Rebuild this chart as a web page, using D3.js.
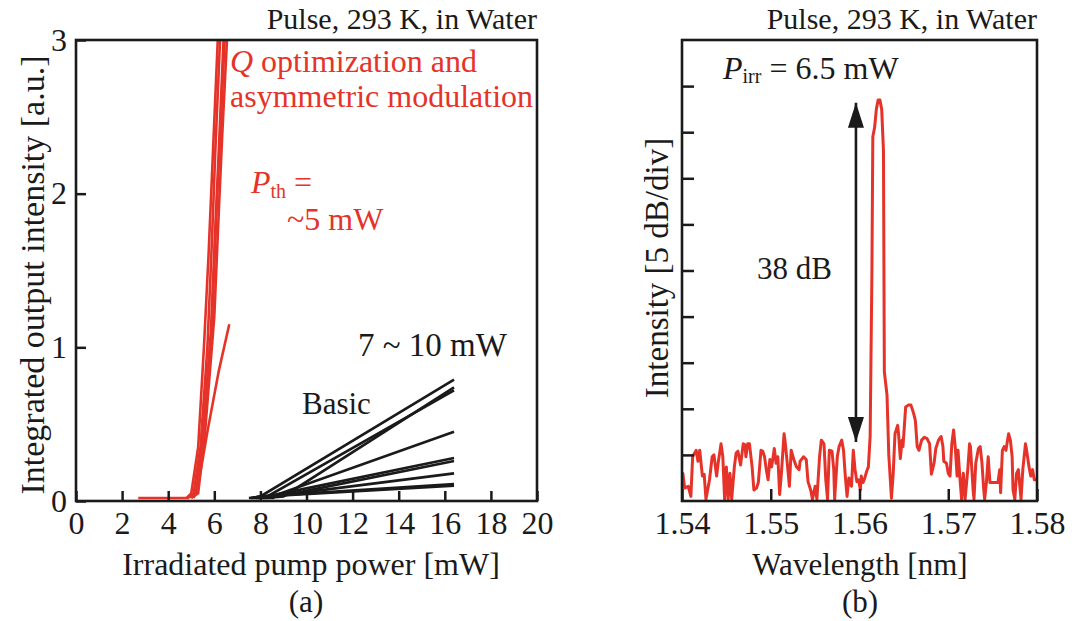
<!DOCTYPE html>
<html>
<head>
<meta charset="utf-8">
<script src="https://cdn.jsdelivr.net/npm/d3@7"></script>
<style>
  html, body { margin: 0; padding: 0; background: #fff; }
  text { font-family: "Liberation Serif", "Times New Roman", serif; fill: #1a1a1a; }
</style>
</head>
<body>
<div id="chart"></div>
<script>
// Tick values
var powerTicks = [0, 2, 4, 6, 8, 10, 12, 14, 16, 18, 20];
var outputTicks = [0, 1, 2, 3];
var wavelengthTicks = [1.54, 1.55, 1.56, 1.57, 1.58];
var intensityTicks = [5, 10, 15, 20, 25, 30, 35, 40, 45];

// (a) red curves: Q optimization and asymmetric modulation, [power, output]
var redBase = [[2.7, 0.02], [4.9, 0.02]];
var redCurves = [
  [[4.8, 0.02], [5.0, 0.05], [5.3, 0.35], [5.55, 1.0], [5.75, 1.6], [5.95, 2.3], [6.15, 3.0]],
  [[4.9, 0.02], [5.1, 0.05], [5.4, 0.35], [5.7, 1.0], [5.9, 1.7], [6.05, 2.3], [6.25, 3.0]],
  [[5.0, 0.02], [5.2, 0.05], [5.5, 0.4], [5.85, 1.1], [6.05, 1.8], [6.2, 2.3], [6.4, 3.0]],
  [[5.0, 0.02], [5.3, 0.05], [5.6, 0.45], [6.0, 1.2], [6.2, 1.9], [6.35, 2.4], [6.55, 3.0]],
  [[5.1, 0.02], [5.3, 0.1], [5.55, 0.5], [5.9, 1.15], [6.1, 1.9], [6.3, 2.5], [6.45, 3.0]],
  [[5.0, 0.02], [5.3, 0.1], [5.7, 0.45], [6.2, 0.85], [6.65, 1.15]]
];

// (a) black curves: basic cavities
var blackBase = [[7.5, 0.02], [8.6, 0.02]];
var blackCurves = [
  [[7.6, 0.02], [8.0, 0.03], [16.4, 0.79]],
  [[8.2, 0.02], [9.0, 0.03], [16.4, 0.74]],
  [[7.8, 0.02], [8.3, 0.03], [16.4, 0.72]],
  [[7.9, 0.02], [8.5, 0.03], [16.4, 0.45]],
  [[7.8, 0.02], [8.3, 0.03], [16.4, 0.28]],
  [[8.1, 0.02], [8.8, 0.03], [16.4, 0.26]],
  [[7.9, 0.02], [8.5, 0.03], [16.4, 0.18]],
  [[7.6, 0.02], [8.0, 0.03], [16.4, 0.11]],
  [[7.7, 0.02], [8.2, 0.03], [16.4, 0.10]]
];

// (b) spectrum, [wavelength um, dB above bottom of frame]
var spectrum = [
  [1.5400, 2.7], [1.5401, 3.0], [1.5403, 1.4], [1.5407, 1.6], [1.5410, 0.5], [1.5412, 4.8],
  [1.5416, 5.5], [1.5418, 4.3], [1.5420, 5.5], [1.5423, 2.7], [1.5425, 2.9], [1.5427, 0.2],
  [1.5431, 2.3], [1.5434, 4.8], [1.5436, 5.0], [1.5439, 2.7], [1.5441, 4.3], [1.5444, 6.2],
  [1.5446, 4.8], [1.5448, 0.2], [1.5450, 3.7], [1.5452, 0.2], [1.5454, 3.0], [1.5456, 0.2],
  [1.5459, 3.7], [1.5461, 5.2], [1.5463, 5.4], [1.5466, 3.9], [1.5469, 6.2], [1.5471, 6.1],
  [1.5472, 4.8], [1.5474, 6.2], [1.5476, 6.2], [1.5479, 3.7], [1.5481, 1.2], [1.5484, 1.4],
  [1.5486, 2.0], [1.5489, 5.5], [1.5491, 5.4], [1.5493, 4.8], [1.5495, 3.4], [1.5497, 2.3],
  [1.5499, 4.5], [1.5501, 3.7], [1.5504, 5.7], [1.5506, 4.1], [1.5508, 4.8], [1.5510, 0.7],
  [1.5512, 3.0], [1.5515, 7.3], [1.5516, 6.6], [1.5519, 3.7], [1.5521, 1.6], [1.5523, 5.5],
  [1.5526, 4.5], [1.5529, 3.7], [1.5532, 3.4], [1.5533, 4.3], [1.5537, 4.8], [1.5540, 4.5],
  [1.5542, 2.1], [1.5545, 1.2], [1.5547, 0.2], [1.5550, 1.6], [1.5552, 0.2], [1.5555, 4.8],
  [1.5557, 6.6], [1.5560, 6.2], [1.5562, 2.3], [1.5564, 0.2], [1.5566, 5.5], [1.5569, 5.4],
  [1.5571, 3.4], [1.5572, 0.2], [1.5575, 4.8], [1.5577, 5.9], [1.5580, 6.6], [1.5582, 5.5],
  [1.5584, 2.7], [1.5586, 0.5], [1.5588, 2.5], [1.5591, 1.6], [1.5593, 5.5], [1.5595, 3.4],
  [1.5597, 2.1], [1.5599, 2.3], [1.5601, 1.2], [1.5602, 2.7], [1.5604, 2.0], [1.5606, 2.5],
  [1.5608, 3.2], [1.5610, 3.7], [1.5612, 7.0], [1.5614, 25], [1.5615, 39.5], [1.5617, 40.5],
  [1.5619, 42.5], [1.5621, 43.5], [1.5623, 43.5], [1.5625, 42.5], [1.5627, 38], [1.5628, 14],
  [1.5631, 11.5], [1.5633, 5.0], [1.5636, 0.3], [1.5638, 3.0], [1.5640, 7.3], [1.5643, 8.2],
  [1.5644, 7.3], [1.5646, 4.6], [1.5648, 6.6], [1.5649, 5.9], [1.5652, 10.2], [1.5655, 10.4],
  [1.5658, 10.4], [1.5661, 9.5], [1.5663, 8.7], [1.5665, 5.9], [1.5667, 5.5], [1.5670, 6.6],
  [1.5673, 6.9], [1.5676, 6.8], [1.5679, 6.2], [1.5681, 2.9], [1.5684, 4.1], [1.5686, 5.7],
  [1.5689, 6.6], [1.5692, 7.0], [1.5694, 5.9], [1.5695, 4.3], [1.5698, 4.1], [1.5700, 3.0],
  [1.5702, 2.7], [1.5704, 6.2], [1.5706, 7.7], [1.5708, 5.7], [1.5710, 2.7], [1.5711, 5.5],
  [1.5713, 2.7], [1.5715, 0.2], [1.5717, 3.0], [1.5719, 0.2], [1.5722, 3.4], [1.5724, 6.2],
  [1.5725, 5.9], [1.5728, 1.2], [1.5729, 0.2], [1.5731, 4.1], [1.5734, 5.7], [1.5736, 5.9],
  [1.5738, 4.1], [1.5740, 1.2], [1.5741, 0.2], [1.5743, 2.0], [1.5745, 4.8], [1.5747, 2.0],
  [1.5752, 2.0], [1.5756, 2.0], [1.5758, 3.4], [1.5759, 0.9], [1.5761, 5.5], [1.5763, 5.9],
  [1.5765, 5.5], [1.5768, 7.3], [1.5770, 6.6], [1.5772, 4.8], [1.5773, 1.2], [1.5775, 0.2],
  [1.5777, 3.0], [1.5779, 3.4], [1.5782, 0.2], [1.5784, 3.4], [1.5787, 6.2], [1.5788, 5.7],
  [1.5791, 3.7], [1.5793, 2.7], [1.5795, 3.4], [1.5797, 2.3], [1.5800, 2.3]
];

// 38 dB arrow: wavelength, bottom and top in dB
var arrow = [1.5596, 6.4, 43.2];

(function (d3) {
    'use strict';

    var RED = '#e5332a';
    var INK = '#1a1a1a';

    var svg = d3.select('#chart').append('svg')
        .attr('width', 1072)
        .attr('height', 621)
        .style('display', 'block');

    var defs = svg.append('defs');

    // Scales of the two panels.
    var xP = d3.scaleLinear().domain([0, 20]).range([76, 537]);
    var yP = d3.scaleLinear().domain([0, 3]).range([501, 40]);
    var xW = d3.scaleLinear().domain([1.54, 1.58]).range([682, 1037]);
    var yI = d3.scaleLinear().domain([0, 50]).range([501, 40]);

    defs.append('clipPath').attr('id', 'clipA')
      .append('rect')
        .attr('x', 76).attr('y', 40).attr('width', 461).attr('height', 461);
    defs.append('clipPath').attr('id', 'clipB')
      .append('rect')
        .attr('x', 682).attr('y', 40).attr('width', 355).attr('height', 461);

    function styleAxis(g, size) {
        g.attr('font-family', null).attr('font-size', null);
        g.select('.domain').remove();
        g.selectAll('.tick line').attr('stroke', INK).attr('stroke-width', 2.5);
        g.selectAll('.tick text').style('font-size', size + 'px').attr('fill', INK);
    }

    // ---------- (a) ----------
    var line = d3.line()
        .x(function(d) { return xP(d[0]); })
        .y(function(d) { return yP(d[1]); });

    var plotA = svg.append('g').attr('clip-path', 'url(#clipA)');

    plotA.selectAll('.black')
        .data([blackBase].concat(blackCurves))
      .enter().append('path')
        .attr('class', 'black')
        .attr('d', line)
        .attr('fill', 'none')
        .attr('stroke', INK)
        .attr('stroke-width', 2.6);

    plotA.selectAll('.red')
        .data([redBase].concat(redCurves))
      .enter().append('path')
        .attr('class', 'red')
        .attr('d', line)
        .attr('fill', 'none')
        .attr('stroke', RED)
        .attr('stroke-width', 2.6);

    svg.append('g')
        .attr('transform', 'translate(0,501)')
        .call(d3.axisBottom(xP).tickValues(powerTicks).tickSize(-10).tickSizeOuter(0).tickPadding(10))
        .call(styleAxis, 32);

    svg.append('g')
        .attr('transform', 'translate(76,0)')
        .call(d3.axisLeft(yP).tickValues(outputTicks).tickSize(-10).tickSizeOuter(0).tickPadding(9)
            .tickFormat(d3.format('d')))
        .call(styleAxis, 32);

    svg.append('rect')
        .attr('x', 76).attr('y', 40).attr('width', 461).attr('height', 461)
        .attr('fill', 'none').attr('stroke', INK).attr('stroke-width', 2.6);

    svg.append('text')
        .attr('x', 537).attr('y', 29)
        .attr('text-anchor', 'end')
        .style('font-size', '30px')
        .text('Pulse, 293 K, in Water');

    var q = svg.append('text')
        .attr('x', 230).attr('y', 72)
        .style('fill', RED)
        .style('font-size', '32px');
    q.append('tspan').style('font-style', 'italic').text('Q');
    q.append('tspan').text(' optimization and');

    svg.append('text')
        .attr('x', 230).attr('y', 107)
        .style('fill', RED)
        .style('font-size', '32px')
        .text('asymmetric modulation');

    var pth = svg.append('text')
        .attr('x', 251).attr('y', 193)
        .style('fill', RED)
        .style('font-size', '32px');
    pth.append('tspan').style('font-style', 'italic').text('P');
    pth.append('tspan').attr('dy', 5).style('font-size', '20px').text('th');
    pth.append('tspan').attr('dy', -5).text(' =');

    svg.append('text')
        .attr('x', 287).attr('y', 230)
        .style('fill', RED)
        .style('font-size', '32px')
        .text('~5 mW');

    svg.append('text')
        .attr('x', 358).attr('y', 356)
        .style('font-size', '33px')
        .text('7 ~ 10 mW');

    svg.append('text')
        .attr('x', 302).attr('y', 414)
        .style('font-size', '31px')
        .text('Basic');

    svg.append('text')
        .attr('transform', 'translate(44,275) rotate(-90)')
        .attr('text-anchor', 'middle')
        .style('font-size', '34px')
        .text('Integrated output intensity [a.u.]');

    svg.append('text')
        .attr('x', 311).attr('y', 575)
        .attr('text-anchor', 'middle')
        .style('font-size', '32px')
        .text('Irradiated pump power [mW]');

    svg.append('text')
        .attr('x', 306).attr('y', 612)
        .attr('text-anchor', 'middle')
        .style('font-size', '31px')
        .text('(a)');

    // ---------- (b) ----------
    var specLine = d3.line()
        .x(function(d) { return xW(d[0]); })
        .y(function(d) { return yI(d[1]); });

    svg.append('g').attr('clip-path', 'url(#clipB)')
      .append('path')
        .datum(spectrum)
        .attr('d', specLine)
        .attr('fill', 'none')
        .attr('stroke', RED)
        .attr('stroke-width', 3)
        .attr('stroke-linejoin', 'round');

    svg.append('g')
        .attr('transform', 'translate(0,501)')
        .call(d3.axisBottom(xW).tickValues(wavelengthTicks).tickSize(-12).tickSizeOuter(0).tickPadding(10)
            .tickFormat(d3.format('.2f')))
        .call(styleAxis, 32);

    svg.append('g')
        .attr('transform', 'translate(682,0)')
        .call(d3.axisLeft(yI).tickValues(intensityTicks).tickSize(-12).tickSizeOuter(0).tickFormat(''))
        .call(styleAxis, 32);

    svg.append('rect')
        .attr('x', 682).attr('y', 40).attr('width', 355).attr('height', 461)
        .attr('fill', 'none').attr('stroke', INK).attr('stroke-width', 2.6);

    // Double headed arrow for the side mode suppression.
    defs.append('marker')
        .attr('id', 'head')
        .attr('viewBox', '0 0 25 16')
        .attr('refX', 25).attr('refY', 8)
        .attr('markerUnits', 'userSpaceOnUse')
        .attr('markerWidth', 25).attr('markerHeight', 16)
        .attr('orient', 'auto-start-reverse')
      .append('path')
        .attr('d', 'M0,0 L25,8 L0,16 Z')
        .attr('fill', INK);

    svg.append('line')
        .attr('x1', xW(arrow[0])).attr('x2', xW(arrow[0]))
        .attr('y1', yI(arrow[1])).attr('y2', yI(arrow[2]))
        .attr('stroke', INK)
        .attr('stroke-width', 2.6)
        .attr('marker-start', 'url(#head)')
        .attr('marker-end', 'url(#head)');

    svg.append('text')
        .attr('x', 1037).attr('y', 29)
        .attr('text-anchor', 'end')
        .style('font-size', '30px')
        .text('Pulse, 293 K, in Water');

    var pirr = svg.append('text')
        .attr('x', 723).attr('y', 79)
        .style('font-size', '32px');
    pirr.append('tspan').style('font-style', 'italic').text('P');
    pirr.append('tspan').attr('dy', 4).style('font-size', '20px').text('irr');
    pirr.append('tspan').attr('dy', -4).text(' = 6.5 mW');

    svg.append('text')
        .attr('x', 757).attr('y', 279)
        .style('font-size', '31px')
        .text('38 dB');

    svg.append('text')
        .attr('transform', 'translate(668,268) rotate(-90)')
        .attr('text-anchor', 'middle')
        .style('font-size', '33px')
        .text('Intensity [5 dB/div]');

    svg.append('text')
        .attr('x', 860).attr('y', 575)
        .attr('text-anchor', 'middle')
        .style('font-size', '31px')
        .text('Wavelength [nm]');

    svg.append('text')
        .attr('x', 860).attr('y', 612)
        .attr('text-anchor', 'middle')
        .style('font-size', '31px')
        .text('(b)');
})(d3);
</script>
</body>
</html>
